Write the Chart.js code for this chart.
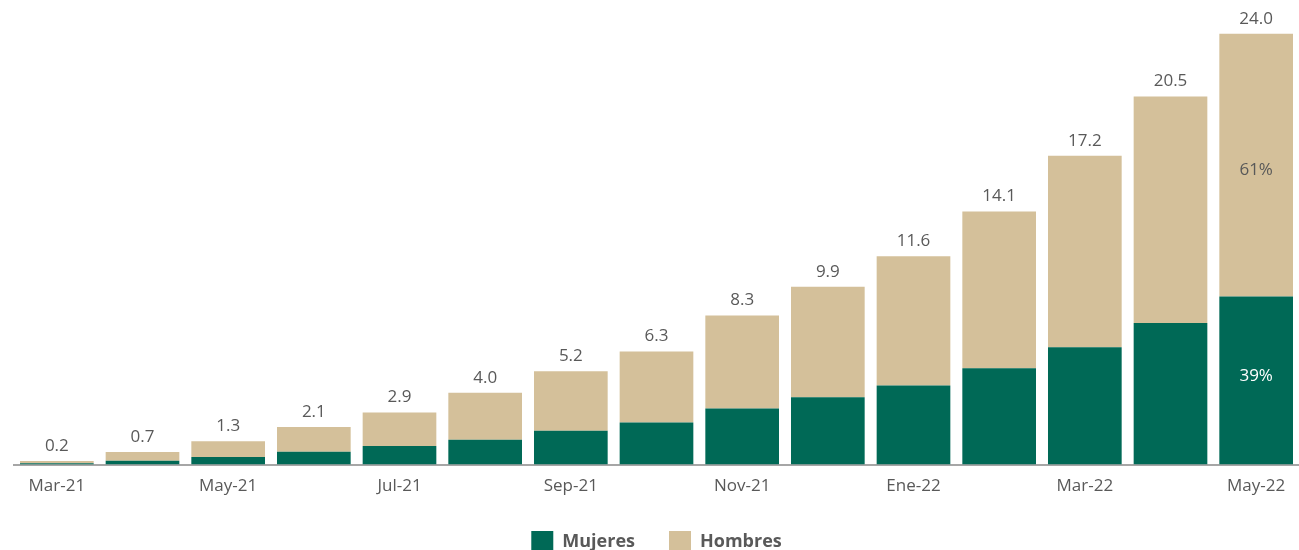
<!DOCTYPE html>
<html>
<head>
<meta charset="utf-8">
<script src="https://cdn.jsdelivr.net/npm/chart.js@4.4.1/dist/chart.umd.min.js"></script>
<style>
html,body{margin:0;padding:0;background:#fff;overflow:hidden;}
#wrap{position:relative;width:1299px;height:566px;}
</style>
</head>
<body>
<div id="wrap"><canvas id="c"></canvas></div>
<script>
const categories = ["Mar-21","Abr-21","May-21","Jun-21","Jul-21","Ago-21","Sep-21","Oct-21","Nov-21","Dic-21","Ene-22","Feb-22","Mar-22","Abr-22","May-22"];
const totals   = [0.2, 0.7, 1.3, 2.1, 2.9, 4.0, 5.2, 6.3, 8.3, 9.9, 11.6, 14.1, 17.2, 20.5, 24.0];
const mujeres  = [0.07, 0.22, 0.43, 0.72, 1.04, 1.39, 1.89, 2.34, 3.12, 3.75, 4.40, 5.36, 6.53, 7.89, 9.36];
const hombres  = totals.map((t, i) => +(t - mujeres[i]).toFixed(2));
const totalLabels = ["0.2","0.7","1.3","2.1","2.9","4.0","5.2","6.3","8.3","9.9","11.6","14.1","17.2","20.5","24.0"];

const GREEN = "#006956";
const TAN = "#d4c09a";
const GREY = "#595959";
const FONT = "'Open Sans', sans-serif";

const labelPlugin = {
  id: "labels",
  afterDatasetsDraw(chart) {
    const ctx = chart.ctx;
    const top = chart.getDatasetMeta(1).data;
    const bottom = chart.getDatasetMeta(0).data;
    ctx.save();
    ctx.font = "17px " + FONT;
    ctx.textAlign = "center";
    ctx.textBaseline = "middle";
    ctx.fillStyle = GREY;
    top.forEach((el, i) => {
      ctx.fillText(totalLabels[i], el.x, el.y - 15);
    });
    const last = totals.length - 1;
    const pm = Math.round(mujeres[last] / totals[last] * 100);
    const ph = 100 - pm;
    const eb = bottom[last], et = top[last];
    ctx.fillStyle = "#ffffff";
    ctx.fillText(pm + "%", eb.x, (eb.y + eb.base) / 2 - 4);
    ctx.fillStyle = GREY;
    ctx.fillText(ph + "%", et.x, (et.y + et.base) / 2 + 5);
    ctx.restore();
  }
};

new Chart(document.getElementById("c"), {
  type: "bar",
  data: {
    labels: categories,
    datasets: [
      { label: "Mujeres", data: mujeres, backgroundColor: GREEN, borderWidth: 0, barPercentage: 0.86, categoryPercentage: 1.0 },
      { label: "Hombres", data: hombres, backgroundColor: TAN, borderWidth: 0, barPercentage: 0.86, categoryPercentage: 1.0 }
    ]
  },
  options: {
    responsive: true,
    maintainAspectRatio: false,
    animation: false,
    layout: { padding: { left: 14, right: 0, top: 5, bottom: 3 } },
    scales: {
      x: {
        stacked: true,
        afterFit: function (scale) { scale.height -= 10; },
        grid: { display: false, drawTicks: false },
        border: { display: true, color: "#a6a6a6", width: 2 },
        ticks: {
          autoSkip: false, maxRotation: 0, padding: 11,
          color: GREY, font: { family: FONT, size: 17 },
          callback: function (v, i) { return i % 2 === 0 ? categories[i] : ""; }
        }
      },
      y: {
        stacked: true, display: false, min: 0, max: 25.6
      }
    },
    plugins: {
      legend: {
        position: "bottom",
        labels: {
          boxWidth: 22, boxHeight: 22, padding: 34,
          color: GREY, font: { family: FONT, size: 18, weight: "bold" }
        }
      },
      tooltip: { enabled: false }
    }
  },
  plugins: [labelPlugin]
});
</script>
</body>
</html>
